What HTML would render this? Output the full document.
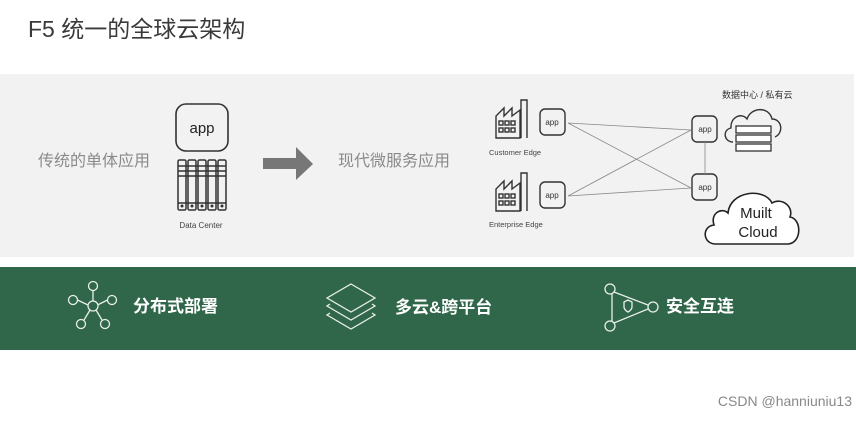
<!DOCTYPE html>
<html><head><meta charset="utf-8"><style>
body{margin:0;width:856px;height:416px;background:#fff;overflow:hidden;font-family:"Liberation Sans","Noto Sans CJK SC",sans-serif}
</style></head><body>
<svg width="856" height="416" xmlns="http://www.w3.org/2000/svg" font-family="Liberation Sans, Noto Sans CJK SC, sans-serif">
<text x="28" y="37" font-size="23" fill="#3a3a3a">F5 统一的全球云架构</text>
<rect x="0" y="74" width="854" height="183" fill="#f2f2f2"/>
<text x="38" y="166" font-size="16" fill="#8a8a8a">传统的单体应用</text>
<rect x="176" y="104" width="52" height="47" rx="10" fill="none" stroke="#333" stroke-width="1.6"/>
<text x="202" y="133" font-size="15" fill="#222" text-anchor="middle">app</text>
<g fill="none" stroke="#333" stroke-width="1.5">
<rect x="178" y="160" width="8" height="50" rx="1.5"/><rect x="188" y="160" width="8" height="50" rx="1.5"/><rect x="198" y="160" width="8" height="50" rx="1.5"/><rect x="208" y="160" width="8" height="50" rx="1.5"/><rect x="218" y="160" width="8" height="50" rx="1.5"/>
<path d="M178 166h48M178 171h48M178 176h48M178 203h48"/>
</g>
<g fill="#333"><circle cx="182" cy="206" r="1.5"/><circle cx="192" cy="206" r="1.5"/><circle cx="202" cy="206" r="1.5"/><circle cx="212" cy="206" r="1.5"/><circle cx="222" cy="206" r="1.5"/></g>
<text x="201" y="228" font-size="8" fill="#444" text-anchor="middle">Data Center</text>
<path d="M263 158h33v-11l17 17-17 16v-11h-33z" fill="#777"/>
<text x="338" y="166" font-size="16" fill="#8a8a8a">现代微服务应用</text>
<g fill="none" stroke="#333" stroke-width="1.4">
<path d="M496 138v-22l8-8v8l8-8v8l8-6v28z"/><path d="M521 138v-38h6v38"/>
<rect x="499" y="121" width="4" height="4"/><rect x="505" y="121" width="4" height="4"/><rect x="511" y="121" width="4" height="4"/>
<rect x="499" y="128" width="4" height="4"/><rect x="505" y="128" width="4" height="4"/><rect x="511" y="128" width="4" height="4"/>
<path d="M496 211v-22l8-8v8l8-8v8l8-6v28z"/><path d="M521 211v-38h6v38"/>
<rect x="499" y="194" width="4" height="4"/><rect x="505" y="194" width="4" height="4"/><rect x="511" y="194" width="4" height="4"/>
<rect x="499" y="201" width="4" height="4"/><rect x="505" y="201" width="4" height="4"/><rect x="511" y="201" width="4" height="4"/>
<rect x="540" y="109" width="25" height="26" rx="5"/><rect x="540" y="182" width="25" height="26" rx="5"/>
<rect x="692" y="116" width="25" height="26" rx="5"/><rect x="692" y="174" width="25" height="26" rx="5"/>
</g>
<g font-size="8" fill="#333" text-anchor="middle"><text x="552" y="125">app</text><text x="552" y="198">app</text><text x="705" y="132">app</text><text x="705" y="190">app</text></g>
<g font-size="7.5" fill="#444"><text x="489" y="155">Customer Edge</text><text x="489" y="227">Enterprise Edge</text></g>
<g stroke="#888" stroke-width="0.8"><path d="M568 123L691 130M568 123L691 188M568 196L691 130M568 196L691 188M705 142v32"/></g>
<text x="722" y="98" font-size="9" fill="#333">数据中心 / 私有云</text>
<path d="M733 142c-9 0-11-12-2-14c-1-11 11-16 16-9c4-12 22-13 25 0c10 0 12 14 3 18" fill="none" stroke="#333" stroke-width="1.4"/>
<g fill="#fff" stroke="#333" stroke-width="1.3"><rect x="736" y="126" width="35" height="7"/><rect x="736" y="135" width="35" height="7"/><rect x="736" y="144" width="35" height="7"/></g>
<path d="M716 244c-14 0-14-18-2-19c-4-12 8-18 14-12c2-22 36-26 44-10c10-6 22 4 18 14c12 2 12 26-2 27z" fill="#fff" stroke="#222" stroke-width="1.6"/>
<text x="756" y="218" font-size="15" fill="#222" text-anchor="middle">Muilt</text>
<text x="758" y="237" font-size="15" fill="#222" text-anchor="middle">Cloud</text>
<rect x="0" y="267" width="856" height="83" fill="#30664a"/>
<g fill="none" stroke="#e8efe9" stroke-width="1.3">
<circle cx="93" cy="306" r="5"/><circle cx="93" cy="286" r="4.5"/><circle cx="73" cy="300" r="4.5"/><circle cx="112" cy="300" r="4.5"/><circle cx="81" cy="324" r="4.5"/><circle cx="105" cy="324" r="4.5"/>
<path d="M93 290.5v10.5M77.5 300l10.5 5M107.5 300l-10 5M84 320l6-10M102 320l-6-10"/>
<path d="M351 284l24 14-24 14-24-14z"/><path d="M330 304l-3 2 24 14 24-14-3-2"/><path d="M330 313l-3 2 24 14 24-14-3-2"/>
<circle cx="610" cy="289" r="5"/><circle cx="610" cy="326" r="5"/><circle cx="653" cy="307" r="5"/>
<path d="M612 293v29M614 292l34 13M614 323l34-14"/>
<path d="M624 302l4-2 4 2v5c0 3-4 5-4 5s-4-2-4-5z"/>
</g>
<g font-size="17" font-weight="bold" fill="#fff"><text x="133" y="312">分布式部署</text><text x="395" y="313">多云&amp;跨平台</text><text x="666" y="312">安全互连</text></g>
<text x="852" y="406" font-size="14" fill="#888" text-anchor="end">CSDN @hanniuniu13</text>
</svg>
</body></html>
